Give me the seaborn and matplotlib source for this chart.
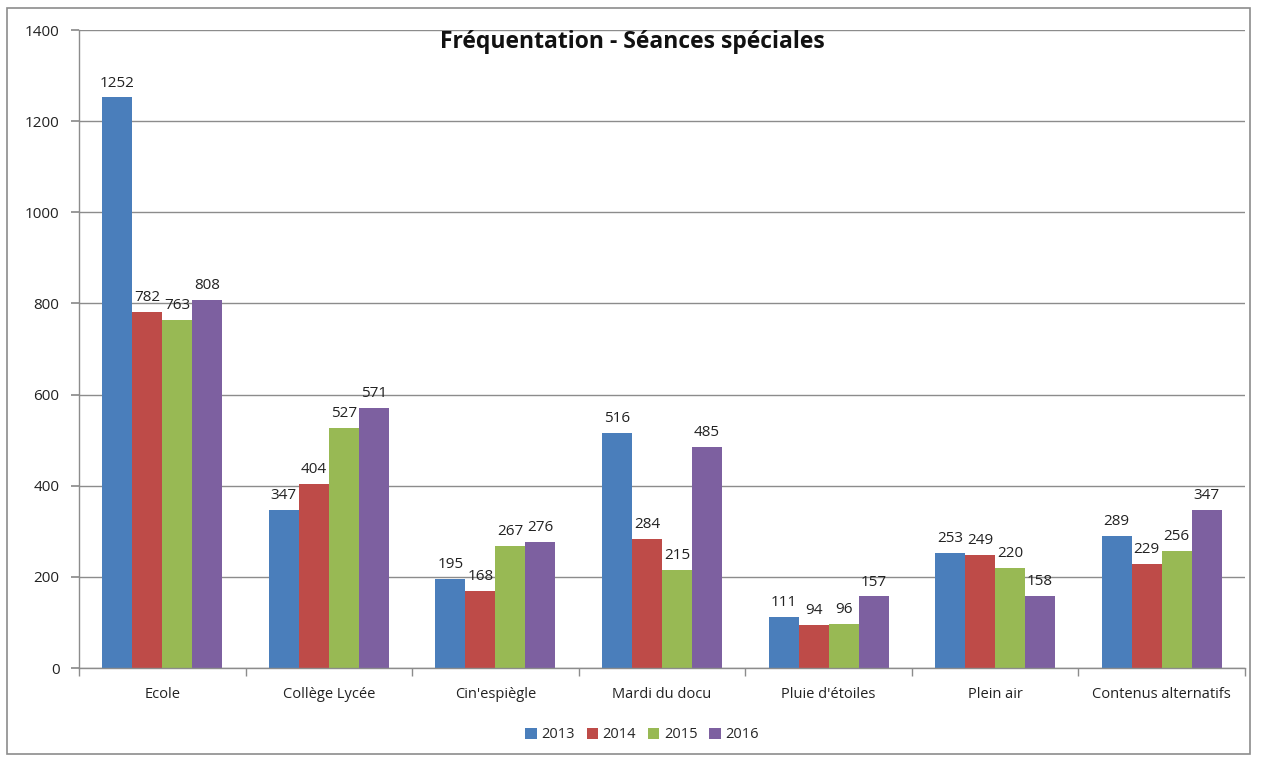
import matplotlib
matplotlib.use("Agg")
import matplotlib.pyplot as plt
import seaborn as sns
import pandas as pd
import numpy as np
from matplotlib.patches import Rectangle

categories = ["Ecole", "Collège Lycée", "Cin'espiègle", "Mardi du docu",
              "Pluie d'étoiles", "Plein air", "Contenus alternatifs"]
years = ["2013", "2014", "2015", "2016"]
v2013 = [1252, 347, 195, 516, 111, 253, 289]
v2014 = [782, 404, 168, 284, 94, 249, 229]
v2015 = [763, 527, 267, 215, 96, 220, 256]
v2016 = [808, 571, 276, 485, 157, 158, 347]
colors = ["#4A7EBB", "#BE4B48", "#98B954", "#7D60A0"]
yticks = [0, 200, 400, 600, 800, 1000, 1200, 1400]

rows = []
for y, vals in zip(years, [v2013, v2014, v2015, v2016]):
    for c, v in zip(categories, vals):
        rows.append({"cat": c, "year": y, "val": v})
df = pd.DataFrame(rows)

sns.set_theme(style="white")
plt.rcParams['font.family'] = ['Open Sans', 'DejaVu Sans']

fig = plt.figure(figsize=(12.62, 7.60), dpi=100)
ax = fig.add_axes([79/1262, 92/760, (1245-79)/1262, (668-30)/760])

sns.barplot(data=df, x="cat", y="val", hue="year", palette=colors,
            width=0.72, gap=0, ax=ax, saturation=1, edgecolor="none",
            linewidth=0)

for cont in ax.containers:
    ax.bar_label(cont, padding=5, fontsize=11, color="#222222")

ax.set_ylim(0, 1400)
ax.set_yticks(yticks)
ax.set_xlim(-0.5, len(categories) - 0.5)
ax.yaxis.grid(True, color="#8C8C8C", linewidth=1)
ax.set_axisbelow(True)
ax.set_xlabel("")
ax.set_ylabel("")
for s in ["top", "right"]:
    ax.spines[s].set_visible(False)
for s in ["left", "bottom"]:
    ax.spines[s].set_color("#8C8C8C")
    ax.spines[s].set_linewidth(1)

ax.tick_params(axis="y", which="major", length=6, color="#8C8C8C",
               labelsize=11, pad=8, left=True, direction="out")
ax.tick_params(axis="x", which="major", length=0, labelsize=10.5, pad=14)
ax.set_xticks(np.arange(-0.5, len(categories) + 0.5, 1), minor=True)
ax.tick_params(axis="x", which="minor", length=6, color="#8C8C8C",
               bottom=True, direction="out")
for lbl in ax.get_xticklabels() + ax.get_yticklabels():
    lbl.set_color("#222222")

fig.text(632/1262, 1 - 42/760, "Fréquentation - Séances spéciales",
         ha="center", va="center", fontsize=16.5, fontweight="bold",
         color="#111111")

handles, labels = ax.get_legend_handles_labels()
ax.legend(handles, labels, loc="center", bbox_to_anchor=(563/1166, -0.105),
          ncol=4, frameon=False, fontsize=10.5, handlelength=0.8,
          handleheight=0.8, handletextpad=0.3, columnspacing=0.8)

fig.patches.append(Rectangle((7/1262, 6/760), (1250-7)/1262, (752-6)/760,
                             transform=fig.transFigure, fill=False,
                             edgecolor="#8C8C8C", linewidth=1.2))

fig.savefig("out.png", dpi=100)
